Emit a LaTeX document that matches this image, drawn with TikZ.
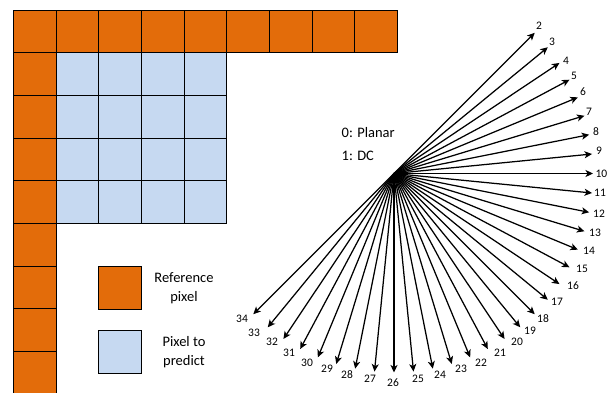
\documentclass[tikz,border=0pt]{standalone}
\usepackage{fontspec}
\setmainfont{Carlito}
\usetikzlibrary{arrows.meta}
\definecolor{refor}{HTML}{E36C0A}
\definecolor{predbl}{HTML}{C6D9F1}
\begin{document}
\begin{tikzpicture}[x=1pt,y=-1pt,
  refcell/.style={draw=black,line width=0.9pt,fill=refor},
  predcell/.style={draw=black,line width=0.9pt,fill=predbl},
  ray/.style={line width=1.25pt,-{Stealth[length=7.5pt,width=7pt,inset=2pt]}},
  lab/.style={font=\fontsize{11.5}{12}\selectfont,inner sep=0pt},
  txt/.style={font=\fontsize{14.5}{19}\selectfont,align=center,inner sep=0pt}]
\useasboundingbox (0,0) rectangle (608,392);
\clip (0,0) rectangle (608,392);
\def\s{42.667}
% reference pixels
\foreach \i in {0,...,8} \draw[refcell] (13.333+\i*\s,10) rectangle ++(\s,\s);
\foreach \j in {1,...,8} \draw[refcell] (13.333,10+\j*\s) rectangle ++(\s,\s);
% pixels to predict
\foreach \i in {1,...,4} \foreach \j in {1,...,4}
  \draw[predcell] (13.333+\i*\s,10+\j*\s) rectangle ++(\s,\s);
% legend
\node[refcell,minimum size=\s pt,inner sep=0pt] (legref) at (120,288) {};
\node[txt] (legreftxt) at (184,288.5) {Reference\\pixel};
\node[predcell,minimum size=\s pt,inner sep=0pt] (legpred) at (120,352) {};
\node[txt] (legpredtxt) at (184,352) {Pixel to\\predict};
% mode texts
\node[txt,anchor=west] (planar) at (341.5,133) {0: Planar};
\node[txt,anchor=west] (dc) at (341.5,155.5) {1: DC};
% angular modes
\coordinate (o) at (394,173.5);
\foreach \m in {2,...,34}{
  \pgfmathsetmacro\ang{(\m-2)*5.625-45}
  \coordinate (t\m) at ([shift={(\ang:199)}]o);
  \draw[ray] (o) -- (t\m);
}
\foreach \m/\lx/\ly in {2/539/26,3/552/42,4/566/61,5/574/76,6/583/92,7/589/112,
  8/596/132,9/599/151,11/600/193,12/599/214,13/595/233,14/589/251,
  15/582/269,16/573/286,17/557/302,18/543/319,19/530/331,20/517/342,21/500/353,
  22/481/363,23/461/369,24/440/375,25/418/379,26/393/383,27/370/379,28/347/375,
  29/327/369,30/307/363,31/289/353,32/272/342,33/254/333,34/242/319}
  \node[lab] (l\m) at (\lx,\ly) {\m};
\node[lab,anchor=east] (l10) at (607.5,173.5) {10};
\end{tikzpicture}
\end{document}
